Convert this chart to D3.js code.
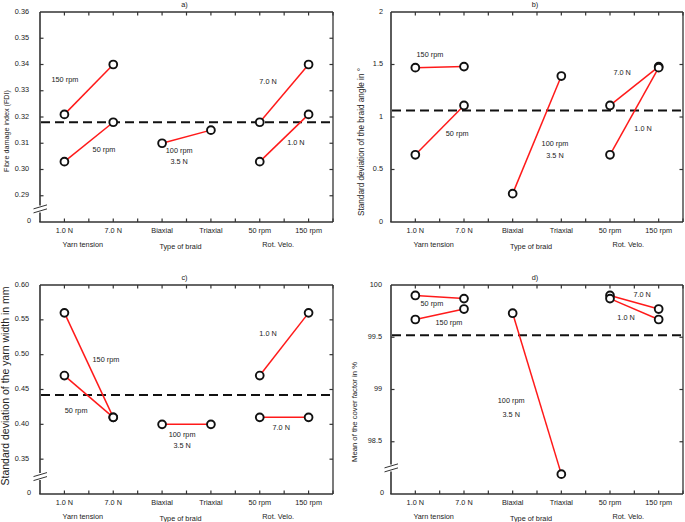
<!DOCTYPE html>
<html><head><meta charset="utf-8">
<script src="https://cdn.jsdelivr.net/npm/d3@7"></script>
<style>
body{margin:0;background:#fff}
svg{display:block}
text{font-family:"Liberation Sans",Arial,sans-serif;fill:#222}
</style>
</head><body>
<svg id="chart" width="685" height="522"></svg>
<script>
// ---------- data ----------
const categories = ["1.0 N", "7.0 N", "Biaxial", "Triaxial", "50 rpm", "150 rpm"];
const groups = ["Yarn tension", "Type of braid", "Rot. Velo."];

// a) Fibre damage index
const fdiTension150 = [0.321, 0.340];
const fdiTension50  = [0.303, 0.318];
const fdiBraid      = [0.310, 0.315];
const fdiVelo70     = [0.318, 0.340];
const fdiVelo10     = [0.303, 0.321];
const fdiMean = 0.318;
const fdiTicks = [0.29, 0.30, 0.31, 0.32, 0.33, 0.34, 0.35, 0.36];

// b) SD of braid angle
const angleTension150 = [1.47, 1.48];
const angleTension50  = [0.64, 1.11];
const angleBraid      = [0.27, 1.39];
const angleVelo70     = [1.11, 1.48];
const angleVelo10     = [0.64, 1.47];
const angleMean = 1.062;
const angleTicks = [0, 0.5, 1, 1.5, 2];

// c) SD of yarn width
const widthTension150 = [0.56, 0.41];
const widthTension50  = [0.47, 0.41];
const widthBraid      = [0.40, 0.40];
const widthVelo10     = [0.47, 0.56];
const widthVelo70     = [0.41, 0.41];
const widthMean = 0.442;
const widthTicks = [0.35, 0.40, 0.45, 0.50, 0.55, 0.60];

// d) Mean cover factor
const coverTension50  = [99.90, 99.87];
const coverTension150 = [99.67, 99.77];
const coverBraid      = [99.73, 98.19];
const coverVelo70     = [99.90, 99.77];
const coverVelo10     = [99.87, 99.67];
const coverMean = 99.52;
const coverTicks = [98.5, 99, 99.5, 100];

// ---------- layout ----------
const panels = [
  {title:"a)", left:40, right:333, top:12, bottom:222, domain:[0.28,0.36], ticks:fdiTicks, fmt:d3.format(".2f"), broken:true,
   yTitle:"Fibre damage index (FDI)", yTitleX:6, yTitleY:131, yTitleSize:7.2, labelGap:11,
   series:[[0,fdiTension150],[0,fdiTension50],[2,fdiBraid],[4,fdiVelo70],[4,fdiVelo10]], mean:fdiMean,
   notes:[["150 rpm",0.01,0.3344],["50 rpm",0.81,0.3076],["100 rpm",2.35,0.3072],["3.5 N",2.35,0.3030],["7.0 N",4.17,0.3336],["1.0 N",4.74,0.3103]]},
  {title:"b)", left:391, right:683, top:12, bottom:222, domain:[0,2], ticks:angleTicks, fmt:d3.format("~g"), broken:false,
   yTitle:"Standard deviation of the braid angle in °", yTitleX:361, yTitleY:142, yTitleSize:8.2, labelGap:8,
   series:[[0,angleTension150],[0,angleTension50],[2,angleBraid],[4,angleVelo70],[4,angleVelo10]], mean:angleMean,
   notes:[["150 rpm",0.30,1.598],["50 rpm",0.86,0.842],["100 rpm",2.87,0.746],["3.5 N",2.87,0.632],["7.0 N",4.25,1.426],["1.0 N",4.68,0.89]]},
  {title:"c)", left:40, right:333, top:285, bottom:494, domain:[0.30,0.60], ticks:widthTicks, fmt:d3.format(".2f"), broken:true,
   yTitle:"Standard deviation of the yarn width in mm", yTitleX:5, yTitleY:386, yTitleSize:10.5, labelGap:11,
   series:[[0,widthTension150],[0,widthTension50],[2,widthBraid],[4,widthVelo10],[4,widthVelo70]], mean:widthMean,
   notes:[["150 rpm",0.85,0.4936],["50 rpm",0.24,0.4193],["100 rpm",2.41,0.385],["3.5 N",2.41,0.3693],["1.0 N",4.17,0.5307],["7.0 N",4.44,0.395]]},
  {title:"d)", left:391, right:683, top:285, bottom:494, domain:[98.0,100], ticks:coverTicks, fmt:d3.format("~g"), broken:true,
   yTitle:"Mean of the cover factor in %", yTitleX:354, yTitleY:412, yTitleSize:7.7, labelGap:9,
   series:[[0,coverTension50],[0,coverTension150],[2,coverBraid],[4,coverVelo70],[4,coverVelo10]], mean:coverMean,
   notes:[["50 rpm",0.34,99.82],["150 rpm",0.69,99.64],["100 rpm",1.97,98.89],["3.5 N",1.97,98.76],["7.0 N",4.66,99.91],["1.0 N",4.33,99.69]]}
];

const svg = d3.select("#chart");
const FS = 7.3;
const frameColor = "#333";

panels.forEach(p => {
  const g = svg.append("g");
  const x = d3.scalePoint().domain(categories).range([p.left, p.right]).padding(0.5);
  const step = x.step();
  const xi = i => x(categories[0]) + i * step;
  const y = d3.scaleLinear().domain(p.domain).range([p.bottom, p.top]);

  // ticks bottom/top
  const xt = d3.range(0, categories.length - 0.5 + 0.001, 0.5).map(xi);
  g.selectAll(".tb").data(xt).join("line")
    .attr("x1", d => d).attr("x2", d => d).attr("y1", p.bottom).attr("y2", p.bottom - 3.5)
    .attr("stroke", frameColor).attr("stroke-width", 1.2);
  g.selectAll(".tt").data(xt).join("line")
    .attr("x1", d => d).attr("x2", d => d).attr("y1", p.top).attr("y2", p.top + 3.5)
    .attr("stroke", frameColor).attr("stroke-width", 1.2);

  // y ticks left/right
  const yt = p.ticks.filter(v => v > p.domain[0] && v < p.domain[1]);
  g.selectAll(".tl").data(yt).join("line")
    .attr("x1", p.left).attr("x2", p.left + 3.5).attr("y1", d => y(d)).attr("y2", d => y(d))
    .attr("stroke", frameColor).attr("stroke-width", 1.2);
  g.selectAll(".tr").data(yt).join("line")
    .attr("x1", p.right).attr("x2", p.right - 3.5).attr("y1", d => y(d)).attr("y2", d => y(d))
    .attr("stroke", frameColor).attr("stroke-width", 1.2);

  // frame
  g.append("line").attr("x1", p.left - 0.7).attr("x2", p.right).attr("y1", p.bottom).attr("y2", p.bottom)
    .attr("stroke", frameColor).attr("stroke-width", 1.6);
  g.append("line").attr("x1", p.left).attr("x2", p.right).attr("y1", p.top).attr("y2", p.top)
    .attr("stroke", frameColor).attr("stroke-width", 1.3);
  g.append("line").attr("x1", p.right).attr("x2", p.right).attr("y1", p.top).attr("y2", p.bottom)
    .attr("stroke", frameColor).attr("stroke-width", 1.3);
  if (p.broken) {
    const low = y(p.ticks[0]);
    const bc = low + (p.bottom - low) * 0.5;
    g.append("line").attr("x1", p.left).attr("x2", p.left).attr("y1", p.top).attr("y2", bc - 3.5)
      .attr("stroke", frameColor).attr("stroke-width", 1.6);
    g.append("line").attr("x1", p.left).attr("x2", p.left).attr("y1", bc + 3.5).attr("y2", p.bottom)
      .attr("stroke", frameColor).attr("stroke-width", 1.6);
    [-2, 2].forEach(o => {
      g.append("line").attr("x1", p.left - 6.5).attr("x2", p.left + 7)
        .attr("y1", bc + o + 2).attr("y2", bc + o - 2)
        .attr("stroke", frameColor).attr("stroke-width", 1);
    });
    g.append("text").attr("x", p.left - p.labelGap + 2).attr("y", p.bottom - 2)
      .attr("text-anchor", "end").attr("dominant-baseline", "central").attr("font-size", FS).text("0");
  } else {
    g.append("line").attr("x1", p.left).attr("x2", p.left).attr("y1", p.top).attr("y2", p.bottom)
      .attr("stroke", frameColor).attr("stroke-width", 1.6);
  }

  // y tick labels
  g.selectAll(".yl").data(p.ticks).join("text")
    .attr("x", p.left - p.labelGap).attr("y", d => y(d) - 1)
    .attr("text-anchor", "end").attr("dominant-baseline", "central")
    .attr("font-size", FS).text(p.fmt);

  // x labels
  g.selectAll(".xl").data(categories).join("text")
    .attr("x", d => x(d)).attr("y", p.bottom + 8.5)
    .attr("text-anchor", "middle").attr("dominant-baseline", "central")
    .attr("font-size", FS).text(d => d);
  g.selectAll(".gl").data(groups).join("text")
    .attr("x", (d, i) => (x(categories[2*i]) + x(categories[2*i+1])) / 2 - 6)
    .attr("y", (d, i) => p.bottom + (i === 1 ? 24.5 : 22))
    .attr("text-anchor", "middle").attr("dominant-baseline", "central")
    .attr("font-size", FS).text(d => d);

  // title
  g.append("text").attr("x", (p.left + p.right) / 2 - 2).attr("y", p.top - 8)
    .attr("text-anchor", "middle").attr("dominant-baseline", "central").attr("font-size", FS).text(p.title);

  // y axis title
  g.append("text")
    .attr("transform", `translate(${p.yTitleX},${p.yTitleY}) rotate(-90)`)
    .attr("text-anchor", "middle").attr("dominant-baseline", "central")
    .attr("font-size", p.yTitleSize).text(p.yTitle);

  // mean dashed line
  g.append("line").attr("x1", p.left + 1).attr("x2", p.right).attr("y1", y(p.mean)).attr("y2", y(p.mean))
    .attr("stroke", "#111").attr("stroke-width", 2).attr("stroke-dasharray", "9,5");

  // series lines
  const line = d3.line().x(d => xi(d[0])).y(d => y(d[1]));
  p.series.forEach(([start, vals]) => {
    const pts = vals.map((v, k) => [start + k, v]);
    g.append("path").attr("d", line(pts)).attr("fill", "none")
      .attr("stroke", "#ff1a1a").attr("stroke-width", 1.5);
  });
  p.series.forEach(([start, vals]) => {
    g.selectAll(null).data(vals.map((v, k) => [start + k, v])).join("circle")
      .attr("cx", d => xi(d[0])).attr("cy", d => y(d[1])).attr("r", 3.9)
      .attr("fill", "#fff").attr("stroke", "#111").attr("stroke-width", 1.9);
  });

  // notes
  g.selectAll(".nt").data(p.notes).join("text")
    .attr("x", d => xi(d[1])).attr("y", d => y(d[2]))
    .attr("text-anchor", "middle").attr("dominant-baseline", "central")
    .attr("font-size", FS).text(d => d[0]);
});
</script>
</body></html>
